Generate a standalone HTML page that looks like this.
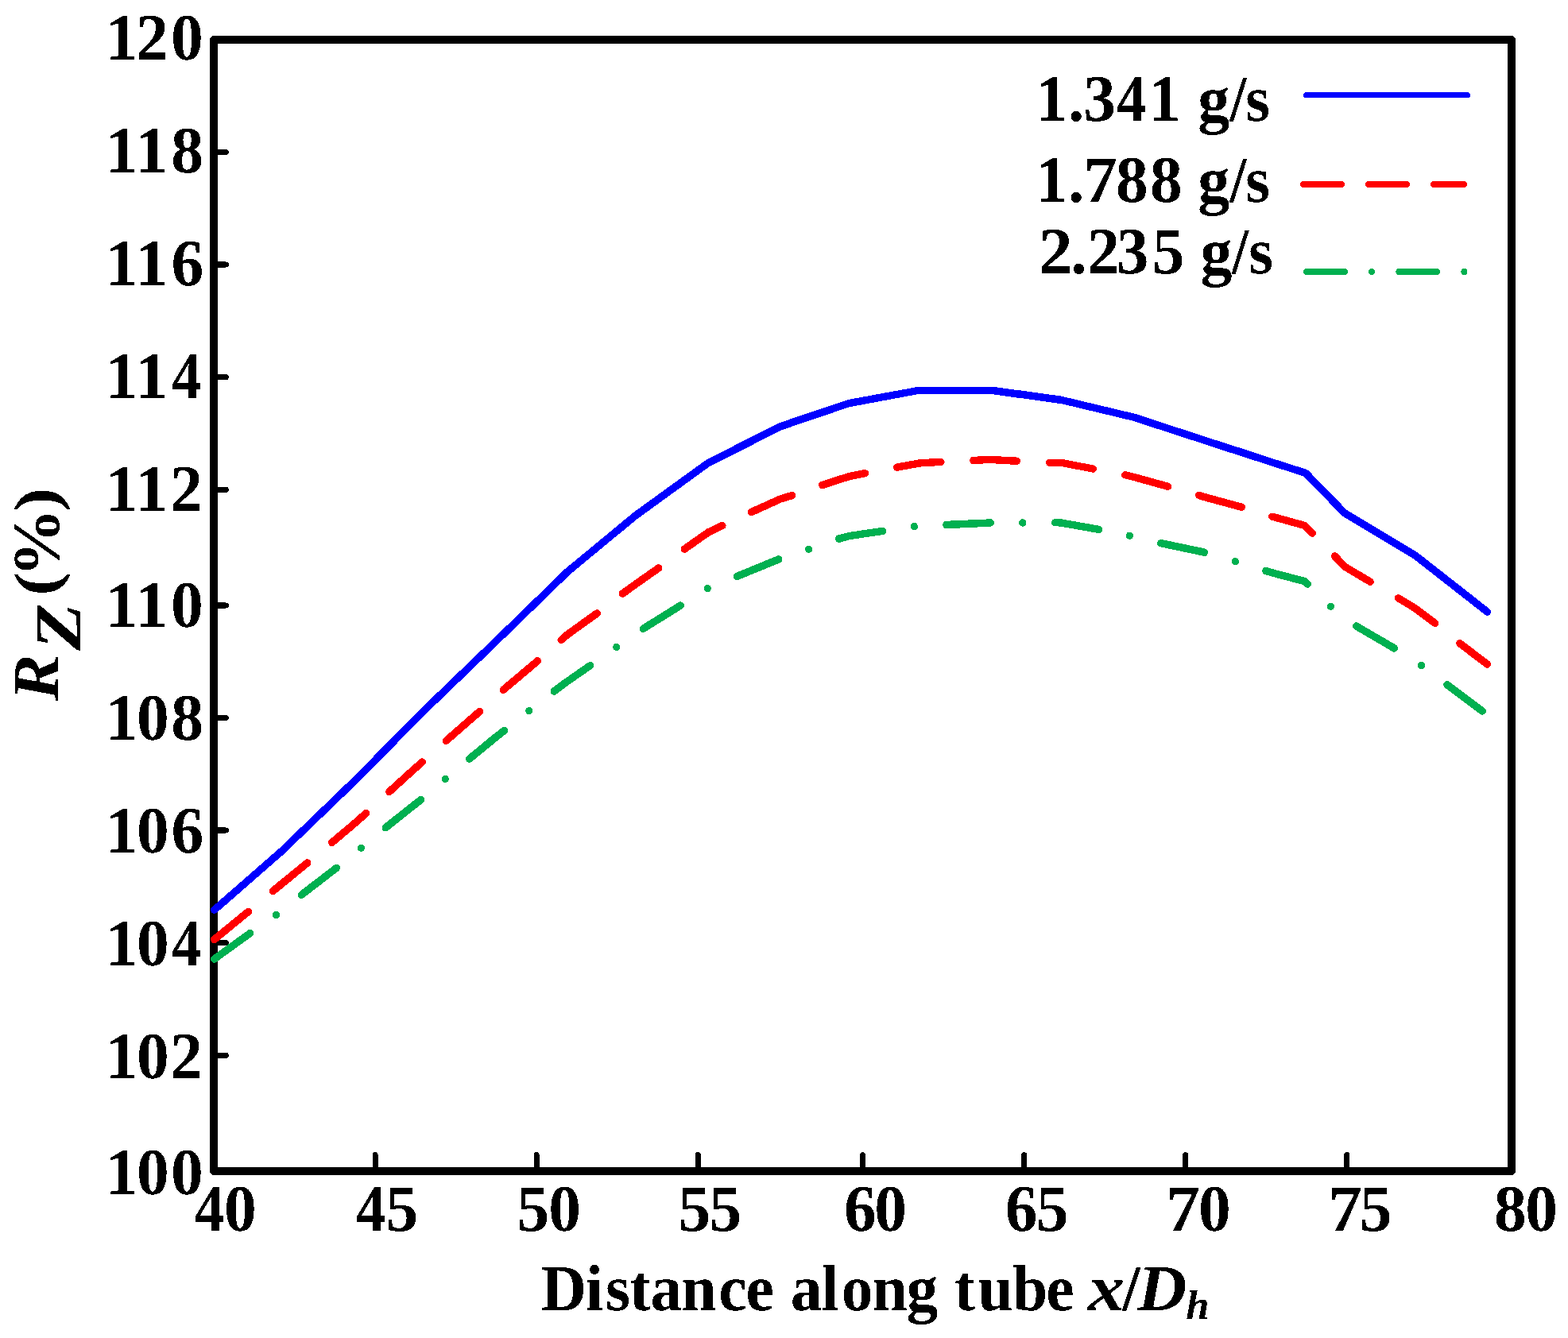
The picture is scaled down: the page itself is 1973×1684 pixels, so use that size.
<!DOCTYPE html>
<html lang="en"><head><meta charset="utf-8"><title>R_Z (%) versus distance along tube x/D_h</title>
<style>html,body{margin:0;padding:0;background:#fff;}body{width:1973px;height:1684px;overflow:hidden;}svg{display:block;}text{font-family:'Liberation Serif', 'Times New Roman', Times, serif;font-weight:bold;fill:#000;font-kerning:none;font-variant-ligatures:none;white-space:pre;text-rendering:geometricPrecision;}.it{font-style:italic;}</style>
</head><body>
<svg width="1973" height="1684" viewBox="0 0 1973 1684" role="img" aria-label="Line chart of R_Z (%) against distance along tube x/D_h for three mass flow rates">
<rect x="0" y="0" width="1973" height="1684" fill="#fff"/>
<defs><filter id="hard" filterUnits="userSpaceOnUse" x="0" y="0" width="1973" height="1684" color-interpolation-filters="sRGB"><feComponentTransfer><feFuncA type="discrete" tableValues="0 1"/></feComponentTransfer></filter></defs>
<g id="axes" filter="url(#hard)">
<rect x="269" y="50" width="1633" height="1424" fill="none" stroke="#000" stroke-width="10" stroke-linejoin="round"/>
<g stroke="#000" stroke-width="7" stroke-linecap="round" fill="none">
<line x1="269" y1="191.54" x2="284.3" y2="191.54"/>
<line x1="269" y1="333.09" x2="284.3" y2="333.09"/>
<line x1="269" y1="474.63" x2="284.3" y2="474.63"/>
<line x1="269" y1="616.17" x2="284.3" y2="616.17"/>
<line x1="269" y1="762.01" x2="284.3" y2="762.01"/>
<line x1="269" y1="903.55" x2="284.3" y2="903.55"/>
<line x1="269" y1="1045.09" x2="284.3" y2="1045.09"/>
<line x1="269" y1="1186.64" x2="284.3" y2="1186.64"/>
<line x1="269" y1="1328.18" x2="284.3" y2="1328.18"/>
<line x1="472.04" y1="1474" x2="472.04" y2="1453.4"/>
<line x1="675.09" y1="1474" x2="675.09" y2="1453.4"/>
<line x1="878.13" y1="1474" x2="878.13" y2="1453.4"/>
<line x1="1085.5" y1="1474" x2="1085.5" y2="1453.4"/>
<line x1="1288.54" y1="1474" x2="1288.54" y2="1453.4"/>
<line x1="1491.59" y1="1474" x2="1491.59" y2="1453.4"/>
<line x1="1694.63" y1="1474" x2="1694.63" y2="1453.4"/>
</g>
<g id="ylabels">
<text transform="scale(0.978,1)" font-size="83.33px"><tspan x="135.62 175.02 219.91" y="75">120</tspan></text>
<text transform="scale(0.978,1)" font-size="83.33px"><tspan x="135.62 174.37 219.97" y="217">118</tspan></text>
<text transform="scale(0.978,1)" font-size="83.33px"><tspan x="135.62 174.37 220.32" y="359">116</tspan></text>
<text transform="scale(0.978,1)" font-size="83.33px"><tspan x="135.62 174.37" y="501">11</tspan><tspan x="220.81" y="501" textLength="38.37" lengthAdjust="spacingAndGlyphs">4</tspan></text>
<text transform="scale(0.978,1)" font-size="83.33px"><tspan x="135.62 174.37 219.14" y="643">112</tspan></text>
<text transform="scale(0.978,1)" font-size="83.33px"><tspan x="135.62 174.37 219.91" y="789">110</tspan></text>
<text transform="scale(0.978,1)" font-size="83.33px"><tspan x="135.62 175.84 219.97" y="931">108</tspan></text>
<text transform="scale(0.978,1)" font-size="83.33px"><tspan x="135.62 175.84 220.32" y="1073">106</tspan></text>
<text transform="scale(0.978,1)" font-size="83.33px"><tspan x="135.62 175.84" y="1215">10</tspan><tspan x="220.81" y="1215" textLength="38.37" lengthAdjust="spacingAndGlyphs">4</tspan></text>
<text transform="scale(0.978,1)" font-size="83.33px"><tspan x="135.62 175.84 219.14" y="1357">102</tspan></text>
<text transform="scale(0.978,1)" font-size="83.33px"><tspan x="135.62 175.84 219.91" y="1503">100</tspan></text>
</g>
<g id="xlabels">
<text transform="scale(0.978,1)" font-size="83.33px"><tspan x="250.14" y="1549" textLength="38.75" lengthAdjust="spacingAndGlyphs">4</tspan><tspan x="288.37" y="1549">0</tspan></text>
<text transform="scale(0.978,1)" font-size="83.33px"><tspan x="457.92" y="1549" textLength="38.54" lengthAdjust="spacingAndGlyphs">4</tspan><tspan x="496.53" y="1549">5</tspan></text>
<text transform="scale(0.978,1)" font-size="83.33px"><tspan x="665.14 705.7" y="1549">50</tspan></text>
<text transform="scale(0.978,1)" font-size="83.33px"><tspan x="872.75 912.68" y="1549">55</tspan></text>
<text transform="scale(0.978,1)" font-size="83.33px"><tspan x="1085.91 1124.92" y="1549">60</tspan></text>
<text transform="scale(0.978,1)" font-size="83.33px"><tspan x="1293.27 1333.08" y="1549">65</tspan></text>
<text transform="scale(0.978,1)" font-size="83.33px"><tspan x="1500" y="1549" textLength="43.93" lengthAdjust="spacingAndGlyphs">7</tspan><tspan x="1541.95" y="1549">0</tspan></text>
<text transform="scale(0.978,1)" font-size="83.33px"><tspan x="1708.59" y="1549" textLength="43.93" lengthAdjust="spacingAndGlyphs">7</tspan><tspan x="1749.13" y="1549">5</tspan></text>
<text transform="scale(0.978,1)" font-size="83.33px"><tspan x="1922.32 1962.35" y="1549">80</tspan></text>
</g>
<text id="xtitle" transform="scale(0.965,1)" font-size="82.5px"><tspan x="705.12 763.37 789.77 821 848.31 888.28 937.12 972.65 1009.69 1030.75 1071.15 1097.04 1137.19 1181.93 1223.28 1244.01 1275.02 1320.15 1364.1 1399.38" y="1649">Distance along tube </tspan><tspan class="it" x="1418.66" y="1649" textLength="47.88" lengthAdjust="spacingAndGlyphs">x</tspan><tspan x="1463.71" y="1649">/</tspan><tspan class="it" x="1483.31" y="1649" textLength="64.02" lengthAdjust="spacingAndGlyphs">D</tspan><tspan class="it" font-size="52px" x="1546.37" y="1660" textLength="30.36" lengthAdjust="spacingAndGlyphs">h</tspan></text>
<text id="ytitle" transform="rotate(-90)" font-size="82.5px"><tspan class="it" x="-881.91" y="73" textLength="58.34" lengthAdjust="spacingAndGlyphs">R</tspan><tspan class="it" x="-818.86" y="101" textLength="59.52" lengthAdjust="spacingAndGlyphs">Z</tspan><tspan x="-764.85" y="73"> </tspan><tspan font-size="78.3px" x="-749.74" y="72.4" textLength="29.8" lengthAdjust="spacingAndGlyphs">(</tspan><tspan font-size="84px" x="-725.91" y="74" textLength="85.99" lengthAdjust="spacingAndGlyphs">%</tspan><tspan font-size="78.3px" x="-643.88" y="72.4" textLength="29.93" lengthAdjust="spacingAndGlyphs">)</tspan></text>
<g id="legend">
<text transform="scale(0.975,1)" font-size="83.33px"><tspan x="1336.46 1378.51 1398.08" y="152">1.3</tspan><tspan x="1441.08" y="152" textLength="38.32" lengthAdjust="spacingAndGlyphs">4</tspan><tspan x="1482.21 1524.53" y="152">1 </tspan><tspan font-size="82px" x="1546.02" y="152">g</tspan><tspan font-size="82px" x="1587.13" y="152" textLength="21.42" lengthAdjust="spacingAndGlyphs">/</tspan><tspan font-size="82px" x="1607.24" y="152">s</tspan></text>
<text transform="scale(0.975,1)" font-size="83.33px"><tspan x="1336.46 1378.51" y="254">1.</tspan><tspan x="1398.1" y="254" textLength="43.69" lengthAdjust="spacingAndGlyphs">7</tspan><tspan x="1440.04 1484.14 1525.5" y="254">88 </tspan><tspan font-size="82px" x="1546.02" y="254">g</tspan><tspan font-size="82px" x="1587.13" y="254" textLength="21.42" lengthAdjust="spacingAndGlyphs">/</tspan><tspan font-size="82px" x="1607.24" y="254">s</tspan></text>
<text transform="scale(0.975,1)" font-size="83.33px"><tspan x="1340.63" y="344" textLength="43.74" lengthAdjust="spacingAndGlyphs">2</tspan><tspan x="1381.84 1403.31 1440.85 1486.89 1528.44" y="344">.235 </tspan><tspan font-size="82px" x="1549.15" y="344">g</tspan><tspan font-size="82px" x="1590.1" y="344" textLength="21.23" lengthAdjust="spacingAndGlyphs">/</tspan><tspan font-size="82px" x="1611.24" y="344">s</tspan></text>
<g fill="none" stroke-linecap="round">
<line x1="1643.5" y1="119.5" x2="1846.5" y2="119.5" stroke="#0000ff" stroke-width="7"/>
<path d="M1640 232H1688M1722 232H1770M1804 232H1842" stroke="#ff0000" stroke-width="8"/>
<path d="M1644 342H1692M1726 342h0M1760.3 342H1808M1842.4 342h0" stroke="#00b050" stroke-width="8"/>
</g></g>
</g>
<g id="curves" fill="none" stroke-linecap="round" stroke-linejoin="round" stroke-width="9.4">
<path filter="url(#hard)" stroke="#0000ff" d="M269.7 1145.2L355 1070.7L446 983L533 894.8L623 808.1L714 719.7L800 648.6L891 582.7L982 536.7L1068 507.6L1155 491.5L1249.5 491.5L1336 503.5L1427 525.3L1513 553.4L1604 582.9L1643 595.4L1691.7 645.6L1781 699.2L1871.5 770.1"/>
<path filter="url(#hard)" stroke="#ff0000" d="M269.7 1182.4L312.45 1147.4M343.2 1121.5L355 1112L386.8 1085.9M417.7 1060.4L446 1036.5L460.6 1023.5M489.8 996.5L531.2 958.9M561.4 932.3L603.6 895.4M633.4 868.1L676.4 831.8M706.1 805.5L714 798.6L751.2 771.9M783.3 747.1L800 735.2L828.8 714.8M861.2 691.1L891 670.1L908.9 661.6M945.2 644.6L982 628L996.8 623.5M1034.6 610.4L1068 599.7L1088.5 595.6M1128.6 588.2L1159 582.7L1183.9 581.4M1224.8 579.5L1245 578.4L1279.4 580.3M1320.6 582.2L1336 582.5L1375.3 590M1415.8 597.8L1427 600.5L1469.5 612.2M1508.5 623.1L1513 624.9L1562.3 638.2M1600.8 650.2L1604 651L1641.8 661.5L1651.3 671.2M1679.6 700L1691.7 713L1724.2 732.2M1759.5 752.8L1781 765.8L1805.5 784.3M1836.8 809.7L1871.5 836"/>
<path filter="url(#hard)" stroke="#00b050" d="M269.7 1207L314.7 1174.5M379.35 1126.3L423.3 1092.4M485.2 1041.8L529.6 1006.5M590.6 955.2L623 928.5L634.6 919.4M697.2 870.1L714 857.5L742.6 837.7M809.3 791.3L856.4 762M927.5 725.3L979.8 703.9M1055.5 678.1L1068 674.7L1110.5 668.4M1190.8 660.5L1246.3 658M1327.8 657.6L1336 658.1L1382.5 666.4M1460.7 683.6L1513 694.6L1515.4 695.3M1592.8 718.4L1604 721.7L1641.6 731.6L1645.3 735.3M1706.6 788L1754.4 815.9M1820.9 861.7L1865.3 894.9M347.4 1151.4h0M454.5 1067.3h0M560.3 980.5h0M665.8 894.6h0M775.8 814.4h0M890.3 740.6h0M1017.6 691.2h0M1150.5 662.8h0M1286.7 658h0M1421.4 674.1h0M1554.3 706.8h0M1674.5 763.3h0M1788.4 837.5h0"/>
</g>
</svg>
</body></html>
